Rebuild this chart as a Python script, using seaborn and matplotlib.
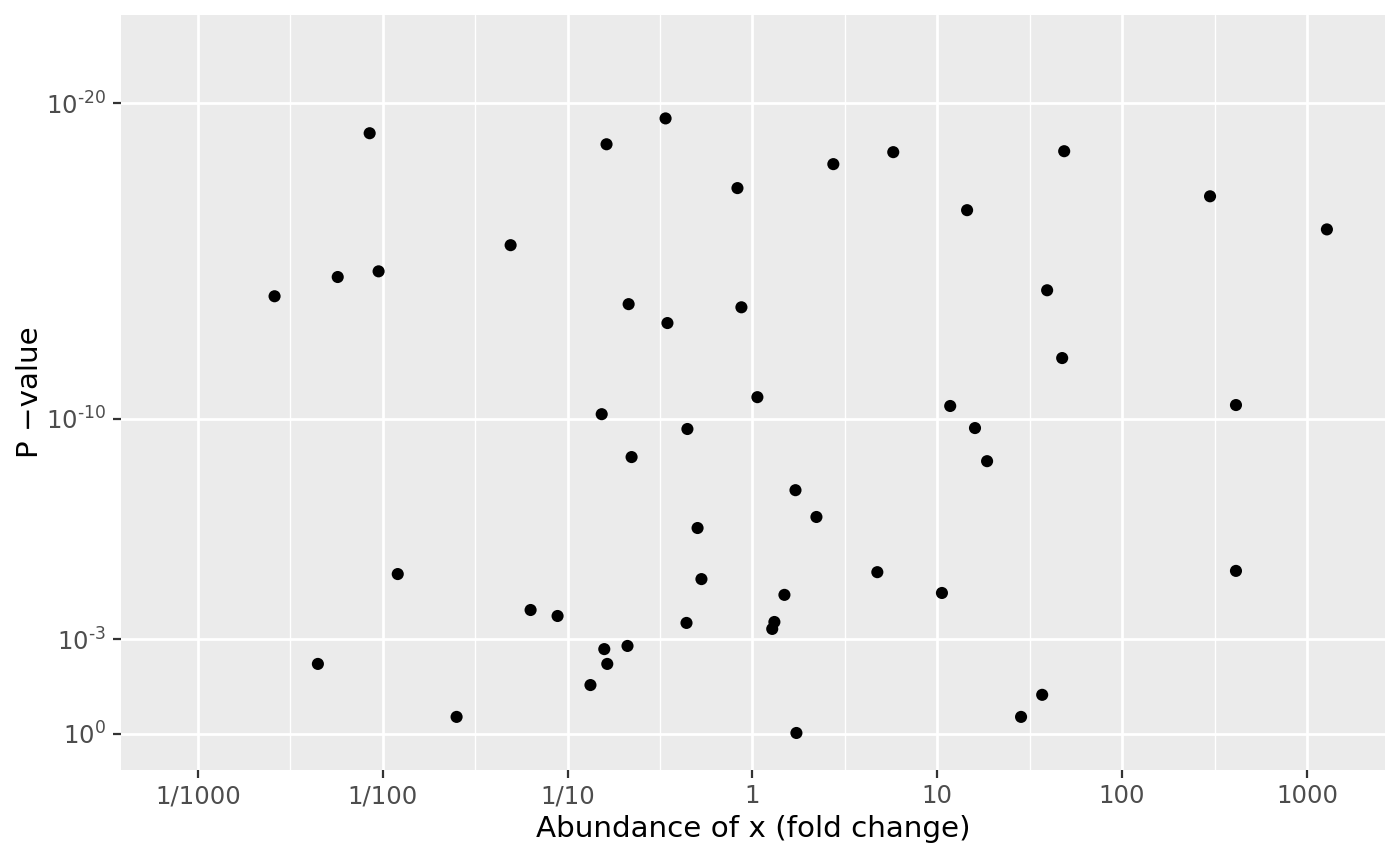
import numpy as np
import pandas as pd
import matplotlib
matplotlib.use("Agg")
import matplotlib.pyplot as plt
import matplotlib.ticker as mticker
import seaborn as sns

# fold change of x and -log10(p) for each point
fold_change = [0.0026, 0.00446, 0.00571, 0.0085, 0.0095, 0.01206, 0.0251, 0.0492,
               0.0631, 0.0883, 0.133, 0.153, 0.158, 0.1625, 0.164, 0.211, 0.214,
               0.222, 0.339, 0.347, 0.44, 0.445, 0.505, 0.53, 0.83, 0.872, 1.064,
               1.28, 1.315, 1.49, 1.71, 1.73, 2.22, 2.74, 4.74, 5.78, 10.6, 11.75,
               14.5, 16.0, 18.6, 28.4, 36.95, 39.3, 47.4, 48.6, 299, 413, 413, 1282]
neg_log10_p = [13.88, 2.22, 14.49, 19.05, 14.67, 5.07, 0.54, 15.5,
               3.93, 3.74, 1.55, 10.14, 2.69, 18.70, 2.22, 2.79, 13.63,
               8.78, 19.52, 13.03, 3.52, 9.67, 6.53, 4.91, 17.31, 13.53, 10.68,
               3.33, 3.55, 4.41, 7.73, 0.03, 6.88, 18.07, 5.13, 18.45, 4.47, 10.40,
               16.61, 9.70, 8.65, 0.54, 1.24, 14.07, 11.92, 18.48, 17.05, 10.43, 5.17, 16.0]

x_breaks = [1e-3, 1e-2, 1e-1, 1, 10, 100, 1000]
x_labels = ["1/1000", "1/100", "1/10", "1", "10", "100", "1000"]
y_breaks = [0, 3, 10, 20]
y_labels = [r"$10^{0}$", r"$10^{\text{-}3}$", r"$10^{\text{-}10}$", r"$10^{\text{-}20}$"]

df = pd.DataFrame({"fc": fold_change, "nlp": neg_log10_p})

sns.set_theme(style="darkgrid", rc={
    "axes.facecolor": "#EBEBEB",
    "figure.facecolor": "white",
    "grid.color": "white",
    "axes.edgecolor": "#EBEBEB",
})
plt.rcParams["font.family"] = ["DejaVu Sans"]

fig = plt.figure(figsize=(7, 4.33), dpi=200)
ax = fig.add_axes([0.0864, 0.111, 0.9026, 0.8717])

sns.scatterplot(data=df, x="fc", y="nlp", ax=ax, color="black", s=19,
                edgecolor="none", linewidth=0, zorder=3)

ax.set_xscale("log")
ax.set_xlim(10 ** -3.416, 10 ** 3.42)
ax.set_ylim(-1.14, 22.8)

ax.xaxis.set_major_locator(mticker.FixedLocator(x_breaks))
ax.xaxis.set_major_formatter(mticker.FixedFormatter(x_labels))
ax.xaxis.set_minor_locator(mticker.FixedLocator([10 ** (k + 0.5) for k in range(-4, 4)]))
ax.xaxis.set_minor_formatter(mticker.NullFormatter())
ax.set_yticks(y_breaks)
ax.set_yticklabels(y_labels)

ax.grid(which="major", color="white", linewidth=1.0)
ax.grid(which="minor", axis="x", color="white", linewidth=0.5)
ax.grid(which="minor", axis="y", visible=False)
ax.set_axisbelow(True)

ax.tick_params(which="major", length=2.75, width=0.8, color="#333333",
               labelsize=8.8, labelcolor="#4D4D4D", pad=2.5, bottom=True, left=True)
ax.tick_params(which="minor", length=0)
for s in ax.spines.values():
    s.set_visible(False)

ax.set_xlabel("Abundance of x (fold change)", fontsize=10.6, color="black", va="center")
ax.set_ylabel("P \u2212value", fontsize=10.6, color="black", va="center")
ax.xaxis.set_label_coords(0.5, -0.078)
ax.yaxis.set_label_coords(-0.072, 0.5)

fig.savefig("out.png", dpi=200)
